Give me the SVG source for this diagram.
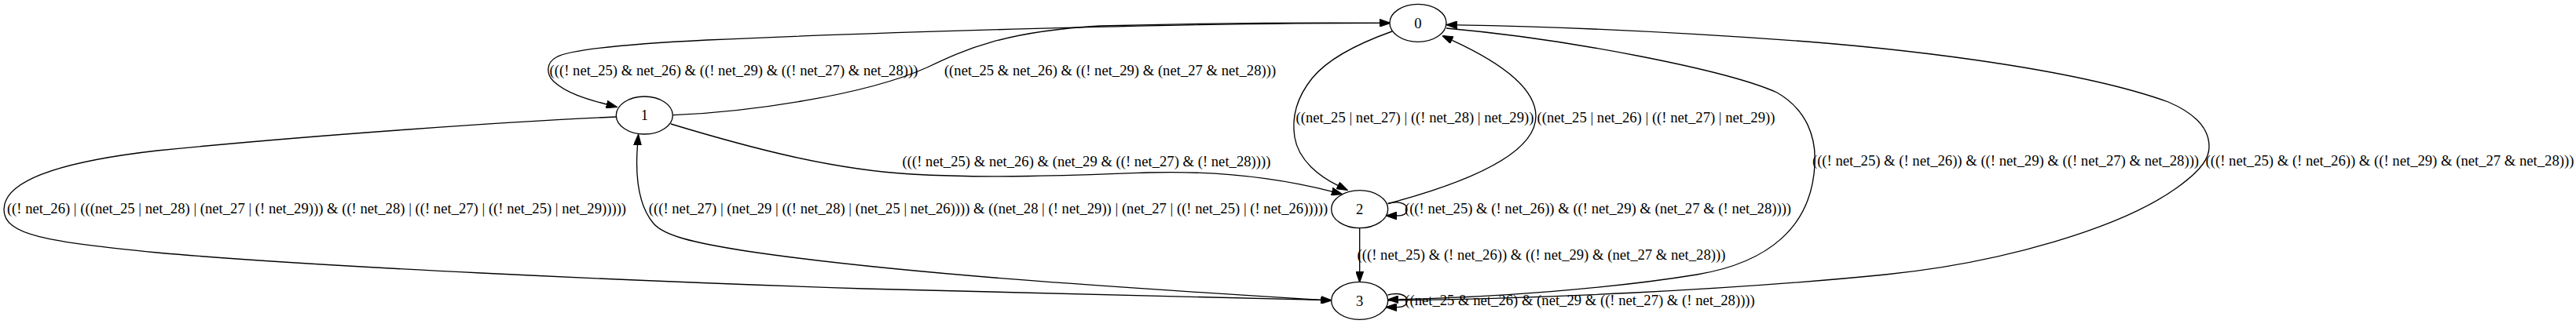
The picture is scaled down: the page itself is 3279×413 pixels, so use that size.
<svg xmlns="http://www.w3.org/2000/svg" width="3279" height="413" viewBox="0 0 3279 413">
<style>
.node ellipse{fill:#fff;stroke:#000;stroke-width:1.33}
.lbl{font-family:"Liberation Serif","Times New Roman",serif;font-size:18.67px;fill:#000;text-anchor:middle}
.edge{fill:none;stroke:#000;stroke-width:1.33;marker-end:url(#arrow)}
</style>
<defs>
<marker id="arrow" markerUnits="userSpaceOnUse" markerWidth="14" markerHeight="10" viewBox="0 0 13.33 9.33" refX="0" refY="4.67" orient="auto">
<path d="M0,0 L13.33,4.67 L0,9.33 Z" fill="#000" stroke="#000" stroke-width="1"/>
</marker>
</defs>
<rect width="3279" height="413" fill="#fff"/>
<g id="connectors">
<path id="e0_1" class="edge" d="M1769,29.3 C1500,29 1100,42 900,51 C800,56 725,63 708,73 C695,80 695,95 705,104 C720,118 745,126 772,133"/>
<path id="e1_0" class="edge" d="M856.7,146.7 C950,143 1100,122 1180,86 C1230,62 1280,40 1400,33 C1550,29 1700,29 1756,29.3"/>
<path id="e1_2" class="edge" d="M854,158 C960,190 1060,216 1160,222 C1260,228 1380,223 1460,220 C1560,217 1640,230 1695.3,244.1"/>
<path id="e1_3" class="edge" d="M784,149 C650,155 400,172 200,192 C60,208 5,235 5,267 C5,300 60,308 200,322 C400,340 800,358 1100,368 C1400,375 1600,380 1681.4,382.4"/>
<path id="e3_1" class="edge" d="M1694.7,383.3 C1450,368 1150,350 950,320 C880,309 845,300 832,285 C815,265 808,230 811.5,185"/>
<path id="e0_2" class="edge" d="M1772,40 C1730,55 1690,75 1670,100 C1650,125 1644,150 1648,175 C1653,205 1680,225 1703,236.4"/>
<path id="e2_0" class="edge" d="M1767,259.5 C1870,232 1955,195 1955,148 C1955,108 1900,75 1848.4,51.3"/>
<path id="e2_2" class="edge" d="M1766.5,259.5 C1778,256 1791,258 1791,266.7 C1791,272.5 1787,275 1778,275"/>
<path id="e2_3" class="edge" d="M1730.7,290.7 L1730.7,346"/>
<path id="e3_3" class="edge" d="M1766.5,376 C1778,372.8 1791,374.8 1791,383.3 C1791,389 1787,391.6 1778,391.6"/>
<path id="e0_3" class="edge" d="M1841,36 C2000,50 2200,90 2262,118 C2300,140 2312,175 2310,210 C2306,290 2250,335 2160,350 C2050,368 1900,379 1780.3,381.6"/>
<path id="e3_0" class="edge" d="M1767,383 C1950,381 2200,370 2400,350 C2550,335 2700,290 2770,240 C2805,215 2812,200 2812,187 C2812,165 2795,145 2760,130 C2650,90 2450,65 2300,53 C2150,42 1990,34 1854.8,31.8"/>
</g>
<g id="edge-labels">
<text class="lbl" x="934" y="96">(((! net_25) &amp; net_26) &amp; ((! net_29) &amp; ((! net_27) &amp; net_28)))</text>
<text class="lbl" x="1413" y="96">((net_25 &amp; net_26) &amp; ((! net_29) &amp; (net_27 &amp; net_28)))</text>
<text class="lbl" x="403" y="272">((! net_26) | (((net_25 | net_28) | (net_27 | (! net_29))) &amp; ((! net_28) | ((! net_27) | ((! net_25) | net_29)))))</text>
<text class="lbl" x="1258" y="272">(((! net_27) | (net_29 | ((! net_28) | (net_25 | net_26)))) &amp; ((net_28 | (! net_29)) | (net_27 | ((! net_25) | (! net_26)))))</text>
<text class="lbl" x="1383" y="212">(((! net_25) &amp; net_26) &amp; (net_29 &amp; ((! net_27) &amp; (! net_28))))</text>
<text class="lbl" x="1801" y="156">((net_25 | net_27) | ((! net_28) | net_29))</text>
<text class="lbl" x="2108" y="156">((net_25 | net_26) | ((! net_27) | net_29))</text>
<text class="lbl" x="2034" y="272">(((! net_25) &amp; (! net_26)) &amp; ((! net_29) &amp; (net_27 &amp; (! net_28))))</text>
<text class="lbl" x="1962" y="331">(((! net_25) &amp; (! net_26)) &amp; ((! net_29) &amp; (net_27 &amp; net_28)))</text>
<text class="lbl" x="2011" y="389">((net_25 &amp; net_26) &amp; (net_29 &amp; ((! net_27) &amp; (! net_28))))</text>
<text class="lbl" x="2553" y="211">(((! net_25) &amp; (! net_26)) &amp; ((! net_29) &amp; ((! net_27) &amp; net_28)))</text>
<text class="lbl" x="3042" y="211">(((! net_25) &amp; (! net_26)) &amp; ((! net_29) &amp; (net_27 &amp; net_28)))</text>
</g>
<g id="node0" class="node"><ellipse cx="1805" cy="29.3" rx="36" ry="24"/><text class="lbl" x="1805" y="35.5">0</text></g>
<g id="node1" class="node"><ellipse cx="820.3" cy="147" rx="36" ry="24"/><text class="lbl" x="820.3" y="153.2">1</text></g>
<g id="node2" class="node"><ellipse cx="1730.7" cy="266.7" rx="36" ry="24"/><text class="lbl" x="1730.7" y="272.9">2</text></g>
<g id="node3" class="node"><ellipse cx="1730.7" cy="383.3" rx="36" ry="24"/><text class="lbl" x="1730.7" y="389.5">3</text></g>
</svg>
